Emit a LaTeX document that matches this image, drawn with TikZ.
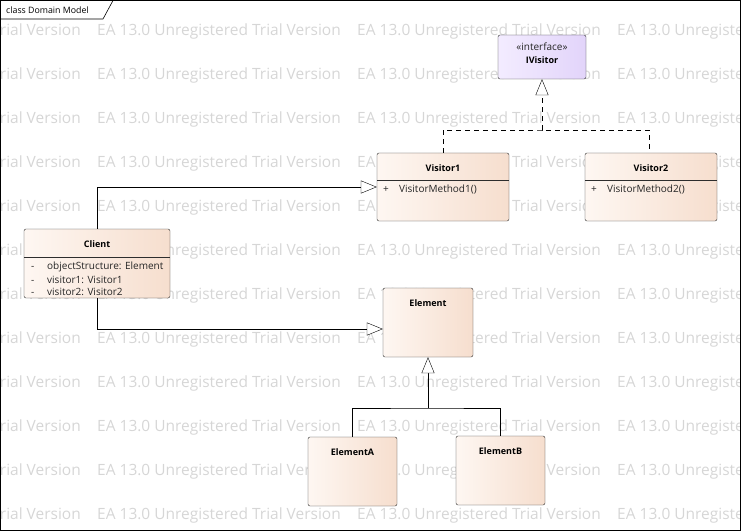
\documentclass[tikz,border=0pt]{standalone}
\usepackage{fontspec}
\setmainfont{Open Sans}
\usetikzlibrary{arrows.meta,calc}

\definecolor{boxleft}{RGB}{254,247,242}
\definecolor{boxright}{RGB}{246,222,206}
\definecolor{ifaceleft}{RGB}{243,236,255}
\definecolor{ifaceright}{RGB}{226,212,250}
\definecolor{wmgray}{RGB}{214,214,214}
\definecolor{boxline}{RGB}{45,45,45}

\tikzset{
  classbox/.style={draw=boxline, rounded corners=2pt, left color=boxleft, right color=boxright, inner sep=0pt},
  ifacebox/.style={classbox, left color=ifaceleft, right color=ifaceright},
  title/.style={font=\fontsize{9}{10}\selectfont\bfseries, inner sep=0pt},
  member/.style={font=\fontsize{10}{11}\selectfont, text=black!85, inner sep=0pt, anchor=west},
  wmtext/.style={font=\fontsize{15.5}{17}\selectfont, text=wmgray, anchor=west, inner sep=0pt},
  inherit/.style={draw=black, -{Triangle[open,length=16pt,width=13pt,fill=white]}},
  realize/.style={inherit, dash pattern=on 5pt off 4pt}
}

\begin{document}
\begin{tikzpicture}[x=1pt,y=-1pt]
		%%%%% START %%%%%
		\useasboundingbox (0,0) rectangle (742,532);
		
		% watermark
		\begin{scope}
		\clip (0.5,0.5) rectangle (740.5,530.5);
		\foreach \row in {0,...,11}
		  \foreach \col in {-163,97,357,617}
		    \node[wmtext] (wm-\row-\col) at (\col, 31+44*\row) {EA 13.0 Unregistered Trial Version};
		\end{scope}
		
		% frame
		\draw[line width=0.8pt] (0.5,0.5) rectangle (740.5,530.5);
		\draw[line width=0.6pt] (0.5,19) -- (103,19) -- (113,0.5);
		\node[member, text=black, font=\fontsize{8.8}{10}\selectfont] (frametitle) at (6,10) {class Domain Model};
		
		% interface
		\node[ifacebox, minimum width=88pt, minimum height=44pt] (ivisitor) at (542,57) {};
		\node[member, anchor=center] (ivisitor-st) at (542,47) {«interface»};
		\node[title] (ivisitor-name) at (542,60) {IVisitor};
		
		% visitors
		\node[classbox, minimum width=132pt, minimum height=68pt] (visitor1) at (443,187) {};
		\node[title] (visitor1-name) at (443,168) {Visitor1};
		\draw[boxline] (visitor1.west |- 0,180) -- (visitor1.east |- 0,180);
		\node[member] (visitor1-op) at (383,189) {\makebox[16pt][l]{+}VisitorMethod1()};
		
		\node[classbox, minimum width=132pt, minimum height=68pt] (visitor2) at (651,187) {};
		\node[title] (visitor2-name) at (651,168) {Visitor2};
		\draw[boxline] (visitor2.west |- 0,180) -- (visitor2.east |- 0,180);
		\node[member] (visitor2-op) at (591,189) {\makebox[16pt][l]{+}VisitorMethod2()};
		
		% client
		\node[classbox, minimum width=146pt, minimum height=69pt] (client) at (97,263.5) {};
		\node[title] (client-name) at (97,244) {Client};
		\draw[boxline] (client.west |- 0,257) -- (client.east |- 0,257);
		\node[member] (client-a1) at (31,267) {\makebox[16pt][l]{-}objectStructure: Element};
		\node[member] (client-a2) at (31,279.5) {\makebox[16pt][l]{-}visitor1: Visitor1};
		\node[member] (client-a3) at (31,292) {\makebox[16pt][l]{-}visitor2: Visitor2};
		
		% elements
		\node[classbox, minimum width=90pt, minimum height=69pt] (element) at (428,322.5) {};
		\node[title] (element-name) at (428,303) {Element};
		
		\node[classbox, minimum width=89pt, minimum height=69pt] (elementA) at (352.5,471.5) {};
		\node[title] (elementA-name) at (352.5,452) {ElementA};
		
		\node[classbox, minimum width=89pt, minimum height=69pt] (elementB) at (500.5,470.5) {};
		\node[title] (elementB-name) at (500.5,451) {ElementB};
		
		% connectors
		\coordinate (rbus) at (542,130);
		\draw[dash pattern=on 5pt off 4pt] (visitor1.north) |- (rbus) -| ([xshift=-2pt]visitor2.north);
		\draw[realize] (rbus) -- (ivisitor.south);
		
		\draw[inherit] (client.north) |- (visitor1.west);
		\draw[inherit] (client.south) |- ([yshift=-6.5pt]element.west);
		
		\coordinate (gbus) at (428,408);
		\draw (elementA.north) |- (gbus) -| (elementB.north);
		\draw[inherit] (gbus) -- (element.south);
		
		%%%%% END %%%%%
	\end{tikzpicture}
\end{document}
